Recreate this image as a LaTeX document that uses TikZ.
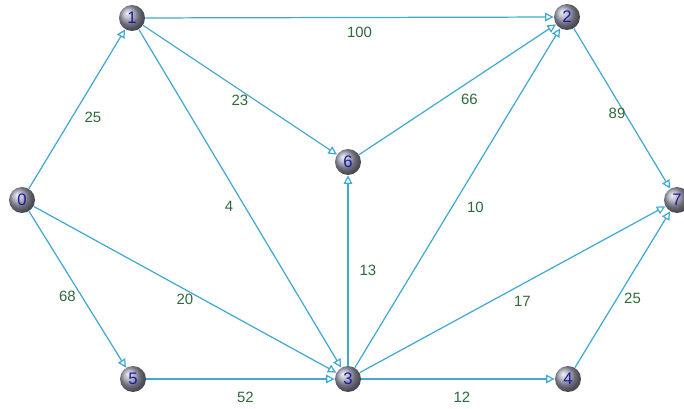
\documentclass[tikz,border=0pt]{standalone}
\usepackage{fontspec}
\setmainfont{Liberation Sans}
\usetikzlibrary{arrows.meta}
\definecolor{edgecyan}{HTML}{3FA9D2}
\definecolor{wtgreen}{HTML}{2E6A3A}
\definecolor{numblue}{HTML}{1A1A9C}
\definecolor{ballgray}{HTML}{A2A2B6}

\begin{document}
\begin{tikzpicture}[x=0.02cm,y=-0.02cm,
      vtx/.style={circle,minimum size=0.52cm,inner sep=0pt,ball color=ballgray,text=numblue,font=\fontsize{9.5}{10}\selectfont},
      arr/.style={-{Triangle[open,length=4.8pt,width=4.8pt]},line width=0.7pt,draw=edgecyan},
      wt/.style={text=wtgreen,font=\fontsize{8.5}{9}\selectfont}]
    \useasboundingbox (0,0) rectangle (684,409);
    % vertices
    \node[vtx] (v0) at (22,200) {0};
    \node[vtx] (v1) at (132,18) {1};
    \node[vtx] (v2) at (567,17) {2};
    \node[vtx] (v3) at (348,379) {3};
    \node[vtx] (v4) at (568,379) {4};
    \node[vtx] (v5) at (133,379) {5};
    \node[vtx] (v6) at (348,162) {6};
    \node[vtx] (v7) at (677,200) {7};
    % weighted edges
    \draw[arr] (v0) -- node[wt,shift={(16,8)}] {25} (v1);
    \draw[arr] (v0) -- node[wt,shift={(-10,7)}] {68} (v5);
    \draw[arr] (v0) -- node[wt,shift={(0,10)}] {20} (v3);
    \draw[arr] (v1) -- node[wt,shift={(10,15)}] {100} (v2);
    \draw[arr] (v1) -- node[wt,shift={(0,10)}] {23} (v6);
    \draw[arr] (v1) -- node[wt,shift={(-11,8)}] {4} (v3);
    \draw[arr] (v6) -- node[wt,shift={(12,10)}] {66} (v2);
    \draw[arr] (v3) -- node[wt,shift={(20,0)}] {13} (v6);
    \draw[arr] (v3) -- node[wt,shift={(18,9)}] {10} (v2);
    \draw[arr] (v3) -- node[wt,shift={(10,12)}] {17} (v7);
    \draw[arr] (v3) -- node[wt,shift={(4,18)}] {12} (v4);
    \draw[arr] (v5) -- node[wt,shift={(5,18)}] {52} (v3);
    \draw[arr] (v2) -- node[wt,shift={(-5,5)}] {89} (v7);
    \draw[arr] (v4) -- node[wt,shift={(10,9)}] {25} (v7);
  \end{tikzpicture}
\end{document}
